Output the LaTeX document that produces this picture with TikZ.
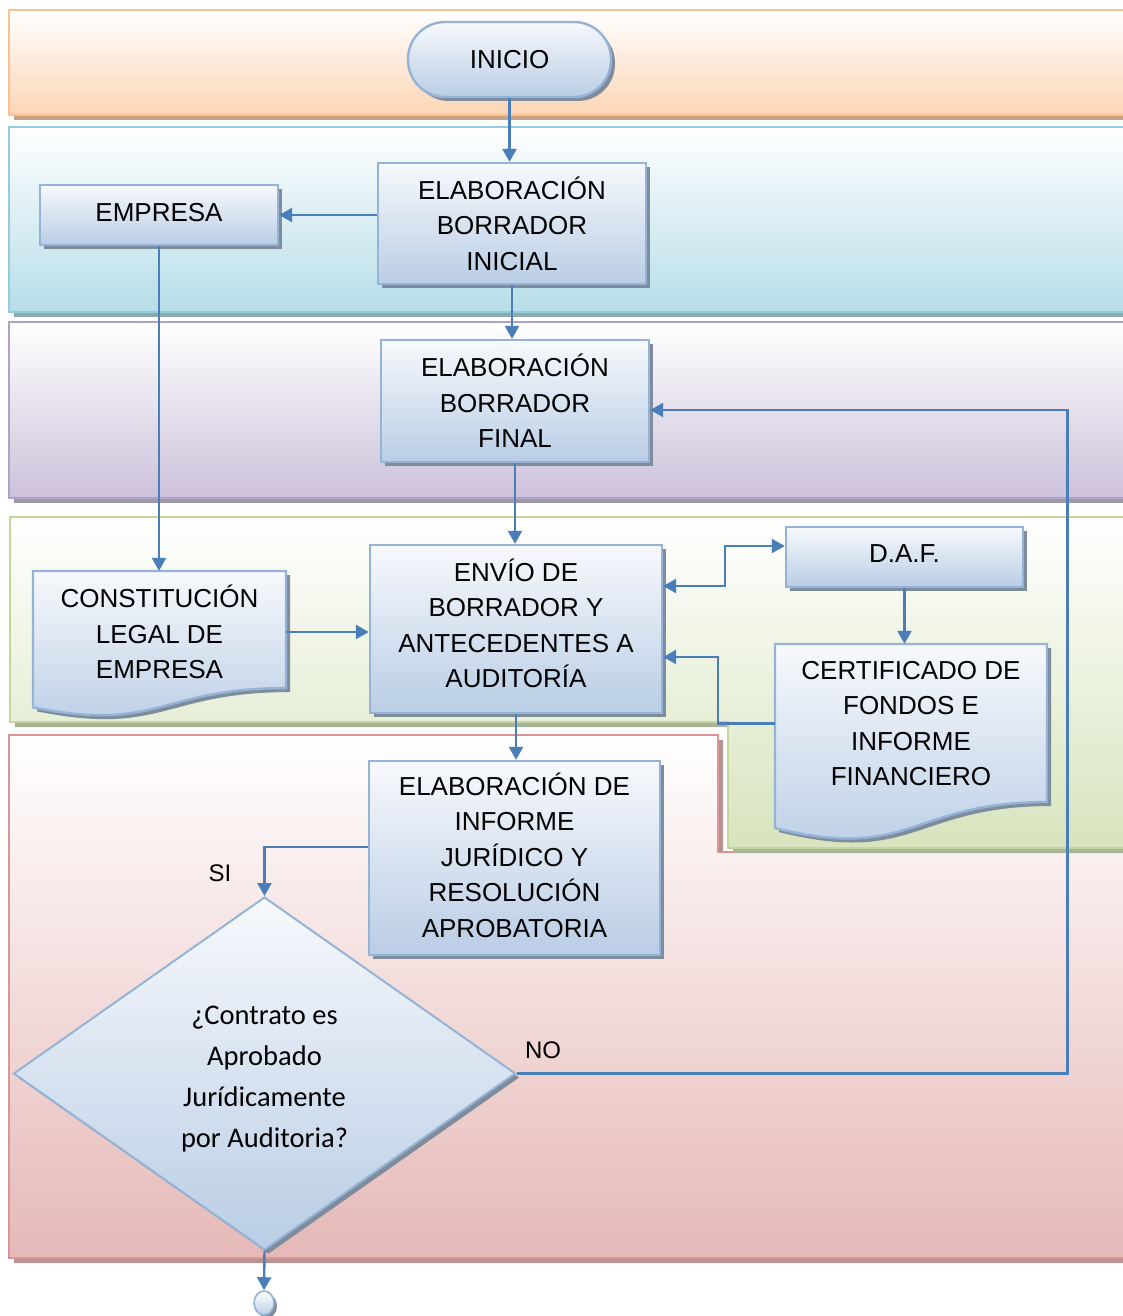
\documentclass[tikz,border=0pt]{standalone}
\usepackage{fontspec}
\setmainfont{Liberation Sans}
\newfontfamily\qfont{Carlito}
\usetikzlibrary{arrows.meta,shadows,shapes.geometric}

% lane colours: border, lower fill, shadow
\definecolor{orLine}{HTML}{FAC08F}\definecolor{orFill}{HTML}{FBD5B5}\definecolor{orShad}{HTML}{C9A283}
\definecolor{blLine}{HTML}{93CDDD}\definecolor{blFill}{HTML}{B6DDE8}\definecolor{blShad}{HTML}{8EA9AE}
\definecolor{puLine}{HTML}{B2A1C7}\definecolor{puFill}{HTML}{CCC1DA}\definecolor{puShad}{HTML}{9F98A8}
\definecolor{grLine}{HTML}{C3D69B}\definecolor{grFill}{HTML}{D7E4BD}\definecolor{grShad}{HTML}{A9B399}
\definecolor{rdLine}{HTML}{D99694}\definecolor{rdFill}{HTML}{E5B9B7}\definecolor{rdShad}{HTML}{B59593}
% flowchart shapes
\definecolor{boxTop}{HTML}{F7F9FC}\definecolor{boxBot}{HTML}{B9CDE5}
\definecolor{boxLine}{HTML}{95B3D7}\definecolor{boxShad}{HTML}{7F8C9C}
\definecolor{connCol}{HTML}{4A7EBB}

% document symbol with a wavy lower edge: x1, top, x2, full height
\newcommand\docpath[4]{(#1,#2) -- (#3,#2) -- (#3,{#2+0.802*#4})
  .. controls ({(#1+#3)/2},{#2+0.802*#4}) and ({(#1+#3)/2},{#2+1.1075*#4}) .. (#1,{#2+0.934*#4}) -- cycle}
% invisible struts that nudge a text block up (extra depth) or down (extra height)
\newcommand\lift[1]{\rule[-#1]{0pt}{0pt}}
\newcommand\drop[1]{\rule{0pt}{#1}}

\begin{document}
\begin{tikzpicture}[x=1pt,y=-1pt,
  lane/.style n args={3}{draw=#1, line width=2pt, top color=white, bottom color=#2,
    drop shadow={fill=#3, opacity=1, shadow xshift=5pt, shadow yshift=-5pt}},
  shapefill/.style={draw=boxLine, line width=2.4pt, top color=boxTop, bottom color=boxBot,
    drop shadow={fill=boxShad, opacity=1, shadow xshift=4pt, shadow yshift=-4pt}},
  boxtext/.style={align=center, inner sep=0pt, font=\fontsize{26}{35.5}\selectfont},
  box/.style={rectangle, shapefill, boxtext},
  conn/.style={draw=connCol, line width=2.4pt, -{Triangle[length=13pt,width=14pt]}},
  dconn/.style={draw=connCol, line width=2.4pt, {Triangle[length=13pt,width=14pt]}-{Triangle[length=13pt,width=14pt]}},
  lbl/.style={font=\fontsize{24}{28}\selectfont, inner sep=0pt}]
\useasboundingbox (0,0) rectangle (1122,1316);

% swimlanes
\path[lane={orLine}{orFill}{orShad}] (9,10) rectangle (1135,115);
\path[lane={blLine}{blFill}{blShad}] (9,127) rectangle (1135,312);
\path[lane={puLine}{puFill}{puShad}] (9,322) rectangle (1135,498);
\path[lane={rdLine}{rdFill}{rdShad}] (9,735) -- (718,735) -- (718,852) -- (1135,852)
  -- (1135,1258) -- (9,1258) -- cycle;
\path[lane={grLine}{grFill}{grShad}] (10,517) -- (1135,517) -- (1135,848) -- (728,848)
  -- (728,722) -- (10,722) -- cycle;

% process boxes
\node[box, rounded corners=37pt, minimum width=203, minimum height=75] (inicio) at (509.5,59.5) {INICIO};
\node[box, minimum width=268, minimum height=121] (elabi) at (512,223.5) {ELABORACIÓN\\BORRADOR\\INICIAL};
\node[box, minimum width=238, minimum height=60] (empresa) at (159,215) {EMPRESA\lift{5pt}};
\node[box, minimum width=268, minimum height=122] (elabf) at (515,401) {ELABORACIÓN\\BORRADOR\\FINAL};
\node[box, minimum width=292, minimum height=168] (envio) at (516,629) {ENVÍO DE\\BORRADOR Y\\ANTECEDENTES A\\AUDITORÍA\lift{12pt}};
\node[box, minimum width=237, minimum height=60] (daf) at (904.5,557) {D.A.F.\lift{6pt}};
\node[box, minimum width=291, minimum height=194] (inf) at (514.5,858) {ELABORACIÓN DE\\INFORME\\JURÍDICO Y\\RESOLUCIÓN\\APROBATORIA\lift{6pt}};

% document symbols
\path[shapefill] \docpath{33}{571}{286}{146};
\node[boxtext, minimum width=253, minimum height=122] (cons) at (159.5,632) {CONSTITUCIÓN\\LEGAL DE\\EMPRESA};
\path[shapefill] \docpath{775}{644}{1047}{197};
\node[boxtext, minimum width=272, minimum height=159] (cert) at (911,723.5) {CERTIFICADO DE\\FONDOS E\\INFORME\\FINANCIERO};

% decision
\node[diamond, shapefill, line width=2pt, minimum width=502, minimum height=353, inner sep=0pt,
  align=center, font=\qfont\fontsize{28.5}{41}\selectfont] (dec) at (264.5,1073.5)
  {\drop{29pt}¿Contrato es\\Aprobado\\Jurídicamente\\por Auditoria?};

% off-page connector
\node[ellipse, draw=boxLine, line width=1.6pt, top color=white, bottom color=boxBot,
  minimum width=20, minimum height=24, inner sep=0pt,
  drop shadow={fill=boxShad, opacity=1, shadow xshift=3pt, shadow yshift=-3pt}] (fin) at (264,1303) {};

% connectors
\draw[conn] (inicio.south) -- (inicio.south |- elabi.north);
\draw[conn] (elabi.west |- empresa.east) -- (empresa.east);
\draw[conn] (elabi.south) -- (elabi.south |- elabf.north);
\draw[conn] (empresa.south) -- (empresa.south |- cons.north);
\draw[conn] (elabf.south) -- (elabf.south |- envio.north);
\draw[conn] (cons.east) -- (cons.east -| envio.west);
\draw[dconn] ([yshift=43pt]envio.east) -- ++(62,0) |- ([yshift=11pt]daf.west);
\draw[conn] (daf.south) -- (daf.south |- cert.north);
\draw[conn] (cert.west) -- ++(-57,0) |- ([yshift=-28pt]envio.east);
\draw[conn] (envio.south) -- (envio.south |- inf.north);
\draw[conn] ([yshift=11pt]inf.west) -| (dec.north);
\draw[conn] (dec.east) -- ++(551,0) |- ([yshift=-9pt]elabf.east);
\draw[conn] (dec.south) -- (fin.north);

% branch labels
\node[lbl] (si) at (220,873) {SI};
\node[lbl] (no) at (543,1050) {NO};
\end{tikzpicture}
\end{document}
